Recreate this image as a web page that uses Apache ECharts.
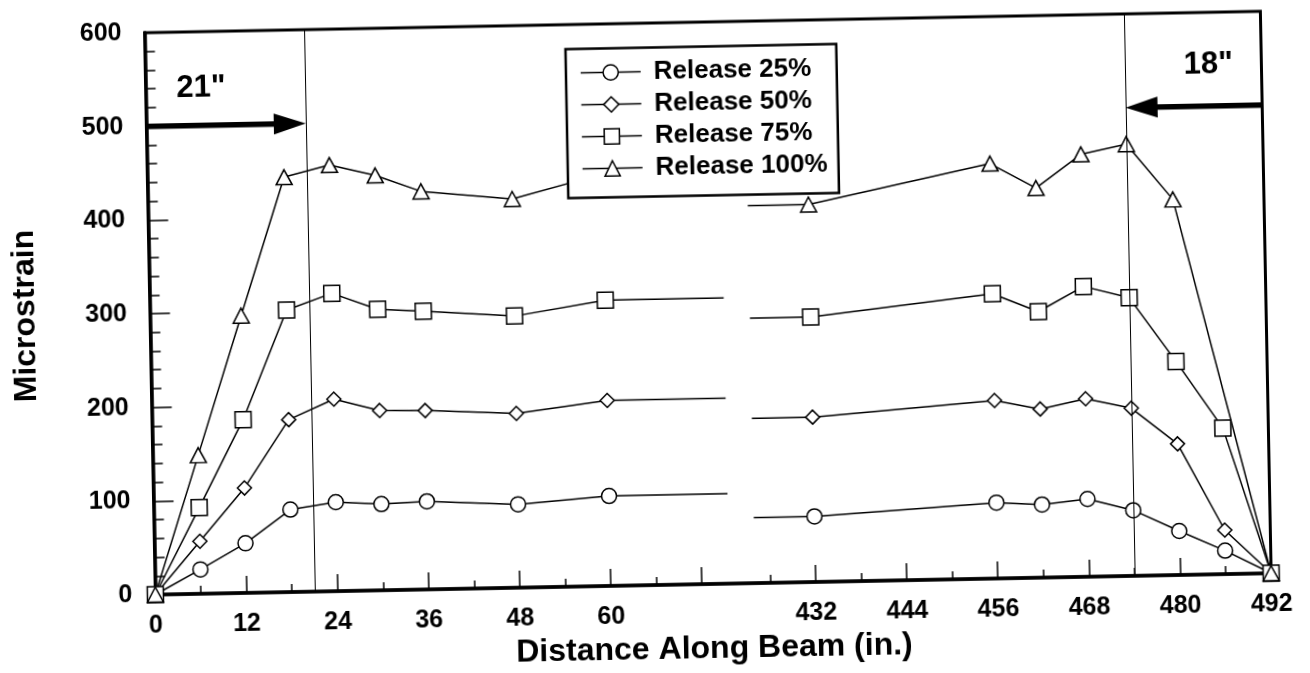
<!DOCTYPE html>
<html>
<head>
<meta charset="utf-8">
<title>Microstrain along beam</title>
<script src="https://cdn.jsdelivr.net/npm/echarts@6/dist/echarts.min.js"></script>
<style>
  html, body { margin: 0; padding: 0; background: #fff; overflow: hidden; }
  #chart { width: 1310px; height: 673px; transform: rotate(-1.1deg); transform-origin: 655px 336.5px; }
</style>
</head>
<body>
<div id="chart"></div>
<script>
// Gauge positions along the beam (in.), near end and far end
const xNear = [0, 6, 12, 18, 24, 30, 36, 48, 60];
const xFar = [432, 456, 462, 468, 474, 480, 486, 492];
const xFar100 = [432, 456, 462, 468, 474, 480, 492];

const seriesNames = ['Release 25%', 'Release 50%', 'Release 75%', 'Release 100%'];

// Microstrain readings for each release stage
const near25 = [0, 26, 53, 88, 95, 92, 94, 89, 96];
const far25 = [70, 81, 78, 83, 70, 47, 25, 0];
const near50 = [0, 56, 112, 184, 205, 192, 191, 186, 198];
const far50 = [176, 190, 180, 190, 179, 140, 47, 0];
const near75 = [0, 92, 185, 301, 318, 300, 297, 290, 305];
const far75 = [283, 304, 284, 310, 297, 228, 156, 0];
const near100 = [0, 148, 296, 443, 455, 443, 425, 415, 440];
const far100 = [403, 443, 416, 451, 461, 401, 0];

// Flat lead lines either side of the axis break (in.)
const nearLeadEnd = 75.6;
const farLeadStart = 424;

// Axis break: the far-end stretch is drawn shifted left by this many inches
const breakShift = 345;
const xMaxReal = 492;

// Axis ticks and labels (in.)
const xLabelValues = [0, 12, 24, 36, 48, 60, 432, 444, 456, 468, 480, 492];
const xMajorTicks = [0, 12, 24, 36, 48, 60, 72, 432, 444, 456, 468, 480, 492];
const xMinorTicks = [6, 18, 30, 42, 54, 66, 426, 438, 450, 462, 474, 486];

// Transfer-length markers (in.) and their arrows
const transferLines = [21, 474];
const transferArrows = [
  { from: 0, to: 21, level: 500, text: '21"', textX: 7.3, textY: 540 },
  { from: 492, to: 474, level: 500, text: '18"', textX: 485, textY: 543.6 }
];

const FONT = '"Liberation Sans", Arial, Helvetica, sans-serif';
const toPlot = x => (x > 200 ? x - breakShift : x);
const fromPlot = v => (v > 76 ? v + breakShift : v);

function buildLine(xa, ya, xb, yb) {
  const d = xa.map((x, i) => [toPlot(x), ya[i]]);
  d.push({ value: [toPlot(nearLeadEnd), ya[ya.length - 1]], symbol: 'none' });
  d.push([(toPlot(nearLeadEnd) + toPlot(farLeadStart)) / 2, '-']);
  d.push({ value: [toPlot(farLeadStart), yb[0]], symbol: 'none' });
  xb.forEach((x, i) => d.push([toPlot(x), yb[i]]));
  return d;
}

const lineData = [
  buildLine(xNear, near25, xFar, far25),
  buildLine(xNear, near50, xFar, far50),
  buildLine(xNear, near75, xFar, far75),
  buildLine(xNear, near100, xFar100, far100)
];
const symbols = ['circle', 'diamond', 'rect', 'triangle'];
const symbolSizes = [15, 14, 16, [16, 15]];

const series = seriesNames.map((name, i) => ({
  type: 'line',
  name: name,
  data: lineData[i],
  symbol: symbols[i],
  symbolSize: symbolSizes[i],
  showAllSymbol: true,
  connectNulls: false,
  lineStyle: { color: '#000', width: 1.5 },
  itemStyle: { color: '#fff', borderColor: '#000', borderWidth: 1.5 },
  emphasis: { disabled: true },
  z: 2
}));

series[0].markLine = {
  silent: true,
  symbol: 'none',
  label: { show: false },
  lineStyle: { color: '#000', width: 1, type: 'solid' },
  data: transferLines.map(x => ({ xAxis: toPlot(x) }))
};

series.push({
  type: 'custom',
  name: 'transfer',
  coordinateSystem: 'cartesian2d',
  silent: true,
  z: 3,
  data: transferArrows.map(a => [toPlot(a.from), toPlot(a.to), a.level, toPlot(a.textX), a.textY]),
  renderItem: function (params, api) {
    const p0 = api.coord([api.value(0), api.value(2)]);
    const p1 = api.coord([api.value(1), api.value(2)]);
    const dir = Math.sign(p1[0] - p0[0]);
    const headLen = 32, headHalf = 10.5;
    const base = p1[0] - dir * headLen;
    const t = api.coord([api.value(3), api.value(4)]);
    return {
      type: 'group',
      children: [
        { type: 'line', shape: { x1: p0[0], y1: p0[1], x2: base + dir * 2, y2: p1[1] },
          style: { stroke: '#000', lineWidth: 5.5 } },
        { type: 'polygon', shape: { points: [[p1[0], p1[1]], [base, p1[1] - headHalf], [base, p1[1] + headHalf]] },
          style: { fill: '#000' } },
        { type: 'text', x: t[0], y: t[1],
          style: { text: transferArrows[params.dataIndex].text, fill: '#000', fontSize: 31,
                   fontWeight: 'bold', fontFamily: FONT, align: 'center', verticalAlign: 'middle' } }
      ]
    };
  }
});

const chart = echarts.init(document.getElementById('chart'), null, { renderer: 'canvas' });
chart.setOption({
  animation: false,
  backgroundColor: '#fff',
  grid: {
    left: 150.5, right: 43.5, top: 23, bottom: 88,
    show: true, borderColor: '#000', borderWidth: 3, backgroundColor: 'transparent',
    outerBoundsMode: 'none'
  },
  legend: {
    data: seriesNames,
    orient: 'vertical',
    left: 571, top: 47.6,
    padding: [11, 11, 16, 14],
    itemGap: 6, itemWidth: 60, itemHeight: 19,
    backgroundColor: '#fff', borderColor: '#000', borderWidth: 2.5,
    selectedMode: false,
    itemStyle: { borderWidth: 1.5 },
    lineStyle: { width: 1.5 },
    textStyle: { fontSize: 26, fontWeight: 'bold', color: '#000', fontFamily: FONT,
                 lineHeight: 26, padding: [0, 0, 0, 8] }
  },
  xAxis: [{
    type: 'value', min: 0, max: toPlot(xMaxReal),
    axisLine: { show: true, onZero: false, lineStyle: { color: '#000', width: 3.5 } },
    axisTick: { show: true, inside: true, length: 17, customValues: xMajorTicks.map(toPlot),
                lineStyle: { color: '#000', width: 1.5 } },
    axisLabel: { show: true, customValues: xLabelValues.map(toPlot),
                 formatter: v => String(Math.round(fromPlot(v))),
                 fontSize: 25, fontWeight: 'bold', color: '#000', fontFamily: FONT, margin: 19 },
    splitLine: { show: false },
    name: 'Distance Along Beam (in.)', nameLocation: 'middle', nameGap: 40,
    nameTextStyle: { fontSize: 32, fontWeight: 'bold', color: '#000', fontFamily: FONT, lineHeight: 32 }
  }, {
    type: 'value', min: 0, max: toPlot(xMaxReal), position: 'bottom', gridIndex: 0,
    axisLine: { show: false },
    axisLabel: { show: false },
    splitLine: { show: false },
    axisTick: { show: true, inside: true, length: 8, customValues: xMinorTicks.map(toPlot),
                lineStyle: { color: '#000', width: 1.5 } }
  }],
  yAxis: {
    type: 'value', min: 0, max: 600, interval: 100,
    axisLine: { show: true, lineStyle: { color: '#000', width: 3.5 } },
    axisTick: { show: true, inside: true, length: 20, lineStyle: { color: '#000', width: 1.5 } },
    minorTick: { show: true, splitNumber: 5, length: 10, lineStyle: { color: '#000', width: 1.5 } },
    splitLine: { show: false },
    minorSplitLine: { show: false },
    axisLabel: { fontSize: 25, fontWeight: 'bold', color: '#000', fontFamily: FONT, margin: 23 },
    name: 'Microstrain', nameLocation: 'middle', nameGap: 108,
    nameTextStyle: { fontSize: 32, fontWeight: 'bold', color: '#000', fontFamily: FONT, lineHeight: 32 }
  },
  series: series
});
</script>
</body>
</html>
